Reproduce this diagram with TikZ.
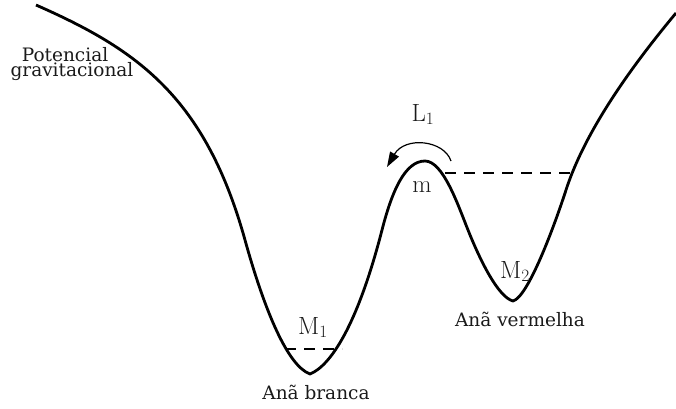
\documentclass[tikz,border=0pt]{standalone}
\usepackage[no-math]{fontspec}
\setmainfont{DejaVu Serif}
\usepackage{xcolor}
\definecolor{ink}{HTML}{000000}
\definecolor{label}{HTML}{1A1A1A}
\usetikzlibrary{arrows.meta}

\begin{document}
\begin{tikzpicture}[x=1pt, y=-1pt, >={Triangle[length=15pt, width=10pt]}]

  \useasboundingbox (0,0) rectangle (676,408);

  \draw[ink, line width=2.8pt, line join=round]
    (36,5) .. controls (136,49) and (205,96) .. (245,240)
           .. controls (265,312) and (288,366) .. (310,374)
           .. controls (330,366) and (357,327) .. (382,230)
           .. controls (392,191) and (405,161) .. (425,161)
           .. controls (443,161) and (458,205) .. (468,230)
           .. controls (480,260) and (498,297) .. (513,301)
           .. controls (528,297) and (554,227) .. (566,190)
           .. controls (586,128) and (636,61) .. (676,13);

  \coordinate (wdl) at (285,349);
  \coordinate (wdr) at (342,349);
  \coordinate (rdl) at (445,173);
  \coordinate (rdr) at (571,173);

  \draw[ink, line width=2pt, dash pattern=on 11pt off 8pt] (wdl) -- (wdr);
  \draw[ink, line width=2pt, dash pattern=on 11pt off 8pt] (rdl) -- (rdr);

  \coordinate (arcs) at (451,161);
  \coordinate (arce) at (387,167);
  \draw[->, ink, line width=1.2pt] (arcs) .. controls (444,140) and (405,136) .. (arce);

  \node[font=\fontsize{18.5}{15}\selectfont, text=label, align=center, anchor=base]
    (potencial) at (72,76) {Potencial\hspace*{14pt}\\gravitacional};

  \node[font=\fontsize{24}{28}\selectfont, text=label, anchor=base] (lone) at (423,121) {$\mathrm{L}_1$};
  \node[font=\fontsize{24}{28}\selectfont, text=label, anchor=base] (mpt) at (422,192) {$\mathrm{m}$};
  \node[font=\fontsize{24}{28}\selectfont, text=label, anchor=base] (mone) at (313,334) {$\mathrm{M}_1$};
  \node[font=\fontsize{24}{28}\selectfont, text=label, anchor=base] (mtwo) at (515,278) {$\mathrm{M}_2$};

  \node[font=\fontsize{18.5}{15}\selectfont, text=label, anchor=base] (branca) at (316,399) {Anã branca};
  \node[font=\fontsize{18.5}{15}\selectfont, text=label, anchor=base] (vermelha) at (520,326) {Anã vermelha};

\end{tikzpicture}
\end{document}
